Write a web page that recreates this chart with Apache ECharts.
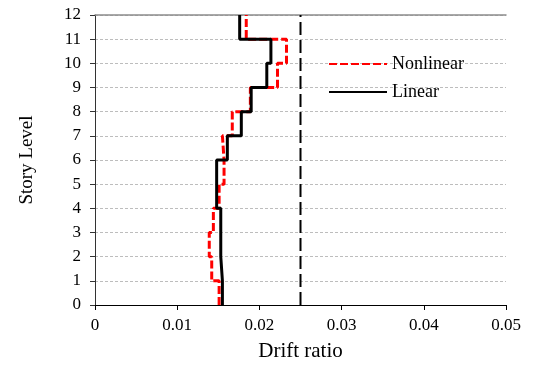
<!DOCTYPE html>
<html>
<head>
<meta charset="utf-8">
<script src="https://cdn.jsdelivr.net/npm/echarts@6/dist/echarts.min.js"></script>
<style>
  html, body { margin: 0; padding: 0; background: #fff; }
  #chart { width: 536px; height: 365px; }
</style>
</head>
<body>
<div id="chart"></div>
<script>
// drift ratio per story (story i spans level i to i+1)
const stories = [0, 1, 2, 3, 4, 5, 6, 7, 8, 9, 10, 11, 12];
const nonlinearDrift = [0.0151, 0.0142, 0.0139, 0.0144, 0.0151, 0.0157, 0.0155, 0.0167, 0.0189, 0.0222, 0.0233, 0.0184];
const linearDrift = [0.0155, 0.0153, 0.0153, 0.0153, 0.0148, 0.0148, 0.0161, 0.0178, 0.0190, 0.0209, 0.0214, 0.0176];
const driftLimit = 0.025;
const xTickLabels = ['0', '0.01', '0.02', '0.03', '0.04', '0.05'];
const yTickLabels = ['0', '1', '2', '3', '4', '5', '6', '7', '8', '9', '10', '11', '12'];

const serif = '"Liberation Serif", "Times New Roman", serif';

// turn per-story values into a vertical step profile
function stepProfile(vals) {
  const pts = [];
  vals.forEach((v, i) => {
    pts.push([v, stories[i]]);
    pts.push([v, stories[i + 1]]);
  });
  return pts;
}

const chart = echarts.init(document.getElementById('chart'));

const option = {
  animation: false,
  backgroundColor: '#fff',
  grid: {
    left: 95,
    right: 30,
    top: 15,
    bottom: 60,
    containLabel: false,
    outerBoundsMode: 'none'
  },
  legend: {
    data: ['Nonlinear', 'Linear'],
    orient: 'vertical',
    left: 323,
    top: 50,
    itemWidth: 58,
    itemHeight: 10,
    itemGap: 10,
    itemStyle: { opacity: 0 },
    textStyle: {
      fontFamily: serif,
      fontSize: 18,
      color: '#000'
    }
  },
  xAxis: [
    {
      type: 'value',
      min: 0,
      max: 0.05,
      interval: 0.01,
      name: 'Drift ratio',
      nameLocation: 'middle',
      nameGap: 36,
      nameTextStyle: {
        fontFamily: serif,
        fontSize: 21,
        color: '#000'
      },
      axisLine: { show: true, lineStyle: { color: '#000', width: 1 } },
      axisTick: { show: true, inside: false, length: 5, lineStyle: { color: '#000' } },
      axisLabel: {
        fontFamily: serif,
        fontSize: 17,
        color: '#000',
        margin: 12,
        formatter: (v, i) => xTickLabels[i]
      },
      splitLine: { show: false }
    },
    {
      // solid grey frame line along level 12
      type: 'value',
      position: 'top',
      min: 0,
      max: 0.05,
      axisLine: { show: true, lineStyle: { color: '#8c8c8c', width: 1.5 } },
      axisTick: { show: false },
      axisLabel: { show: false },
      splitLine: { show: false }
    }
  ],
  yAxis: {
    type: 'value',
    min: 0,
    max: 12,
    interval: 1,
    name: 'Story Level',
    nameLocation: 'middle',
    nameGap: 58,
    nameTextStyle: {
      fontFamily: serif,
      fontSize: 19,
      color: '#000'
    },
    axisLine: { show: true, lineStyle: { color: '#333', width: 1 } },
    axisTick: { show: true, inside: false, length: 5, lineStyle: { color: '#333' } },
    axisLabel: {
      fontFamily: serif,
      fontSize: 17,
      color: '#000',
      margin: 14,
      formatter: (v, i) => yTickLabels[i]
    },
    splitLine: {
      show: true,
      lineStyle: { color: '#bdbdbd', type: [3, 2], width: 1 }
    }
  },
  series: [
    {
      name: 'Nonlinear',
      type: 'line',
      data: stepProfile(nonlinearDrift),
      symbol: 'none',
      color: '#ff0000',
      lineStyle: { color: '#ff0000', width: 3, type: [8, 3] }
    },
    {
      name: 'Linear',
      type: 'line',
      data: stepProfile(linearDrift),
      symbol: 'none',
      color: '#000',
      lineStyle: { color: '#000', width: 3 }
    },
    {
      name: 'Limit',
      type: 'line',
      data: [[driftLimit, stories[0]], [driftLimit, stories[stories.length - 1]]],
      symbol: 'none',
      lineStyle: { color: '#000', width: 2, type: [13, 5] }
    }
  ]
};

chart.setOption(option);
</script>
</body>
</html>
